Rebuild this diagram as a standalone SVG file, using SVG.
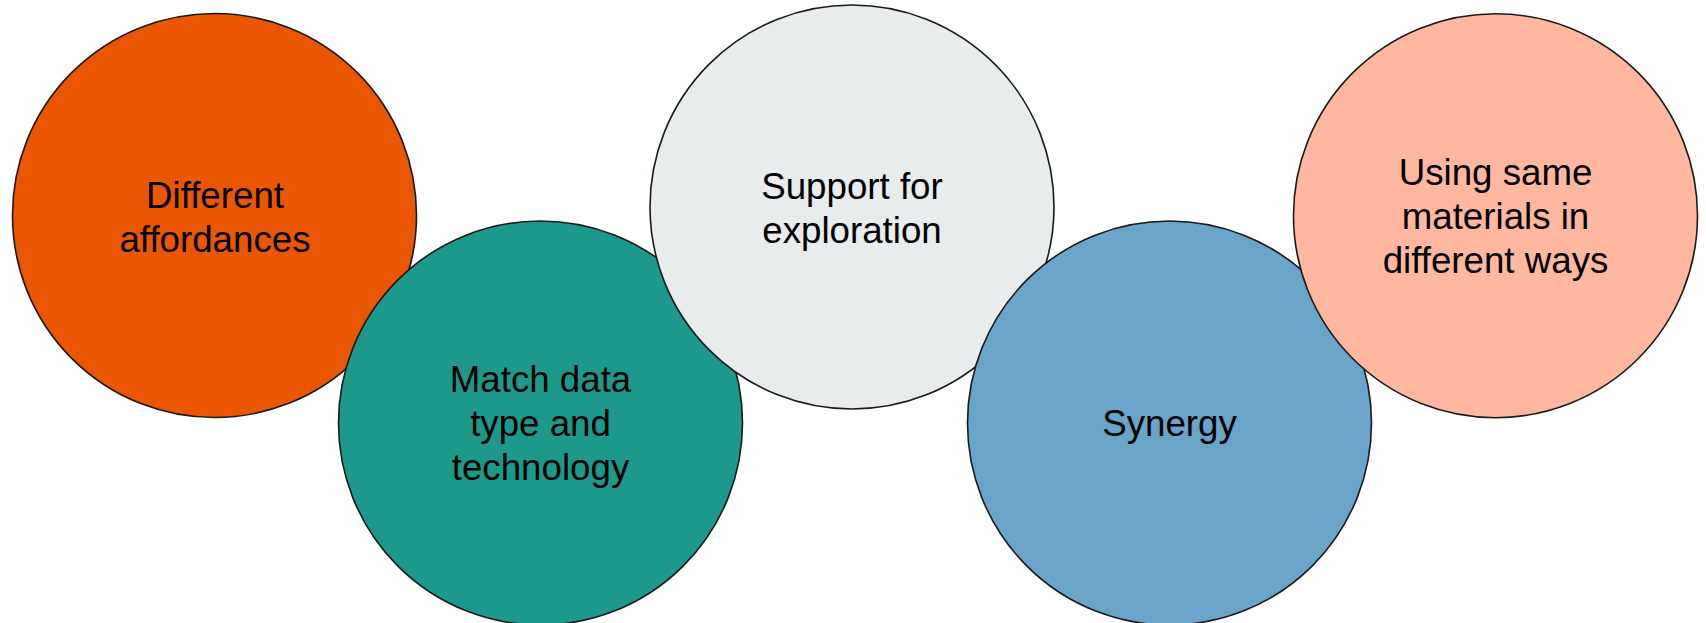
<svg xmlns="http://www.w3.org/2000/svg" width="1706" height="623" viewBox="0 0 1706 623">
<style>
.c{stroke:#1a1a1a;stroke-width:1.6}
.t{font-family:"Liberation Sans",Arial,sans-serif;font-size:36.7px;fill:#000;text-anchor:middle}
</style>
<rect width="1706" height="623" fill="#fff"/>
<g id="connectors"></g>
<g id="n1"><circle class="c" cx="214.5" cy="215.5" r="202" fill="#EA5601"/><text class="t" x="215" y="208">Different</text><text class="t" x="215" y="252">affordances</text></g>
<g id="n2"><circle class="c" cx="540.5" cy="423" r="202" fill="#1C998A"/><text class="t" x="540.5" y="392">Match data</text><text class="t" x="540.5" y="436">type and</text><text class="t" x="540.5" y="480">technology</text></g>
<g id="n3"><circle class="c" cx="852" cy="207" r="202" fill="#E8ECEC"/><text class="t" x="852" y="199">Support for</text><text class="t" x="852" y="243">exploration</text></g>
<g id="n4"><circle class="c" cx="1169.5" cy="423" r="202" fill="#6AA4C9"/><text class="t" x="1169.5" y="436">Synergy</text></g>
<g id="n5"><circle class="c" cx="1495.5" cy="215.7" r="202" fill="#FFB7A0"/><text class="t" x="1495.5" y="185">Using same</text><text class="t" x="1495.5" y="229">materials in</text><text class="t" x="1495.5" y="273">different ways</text></g>
</svg>
